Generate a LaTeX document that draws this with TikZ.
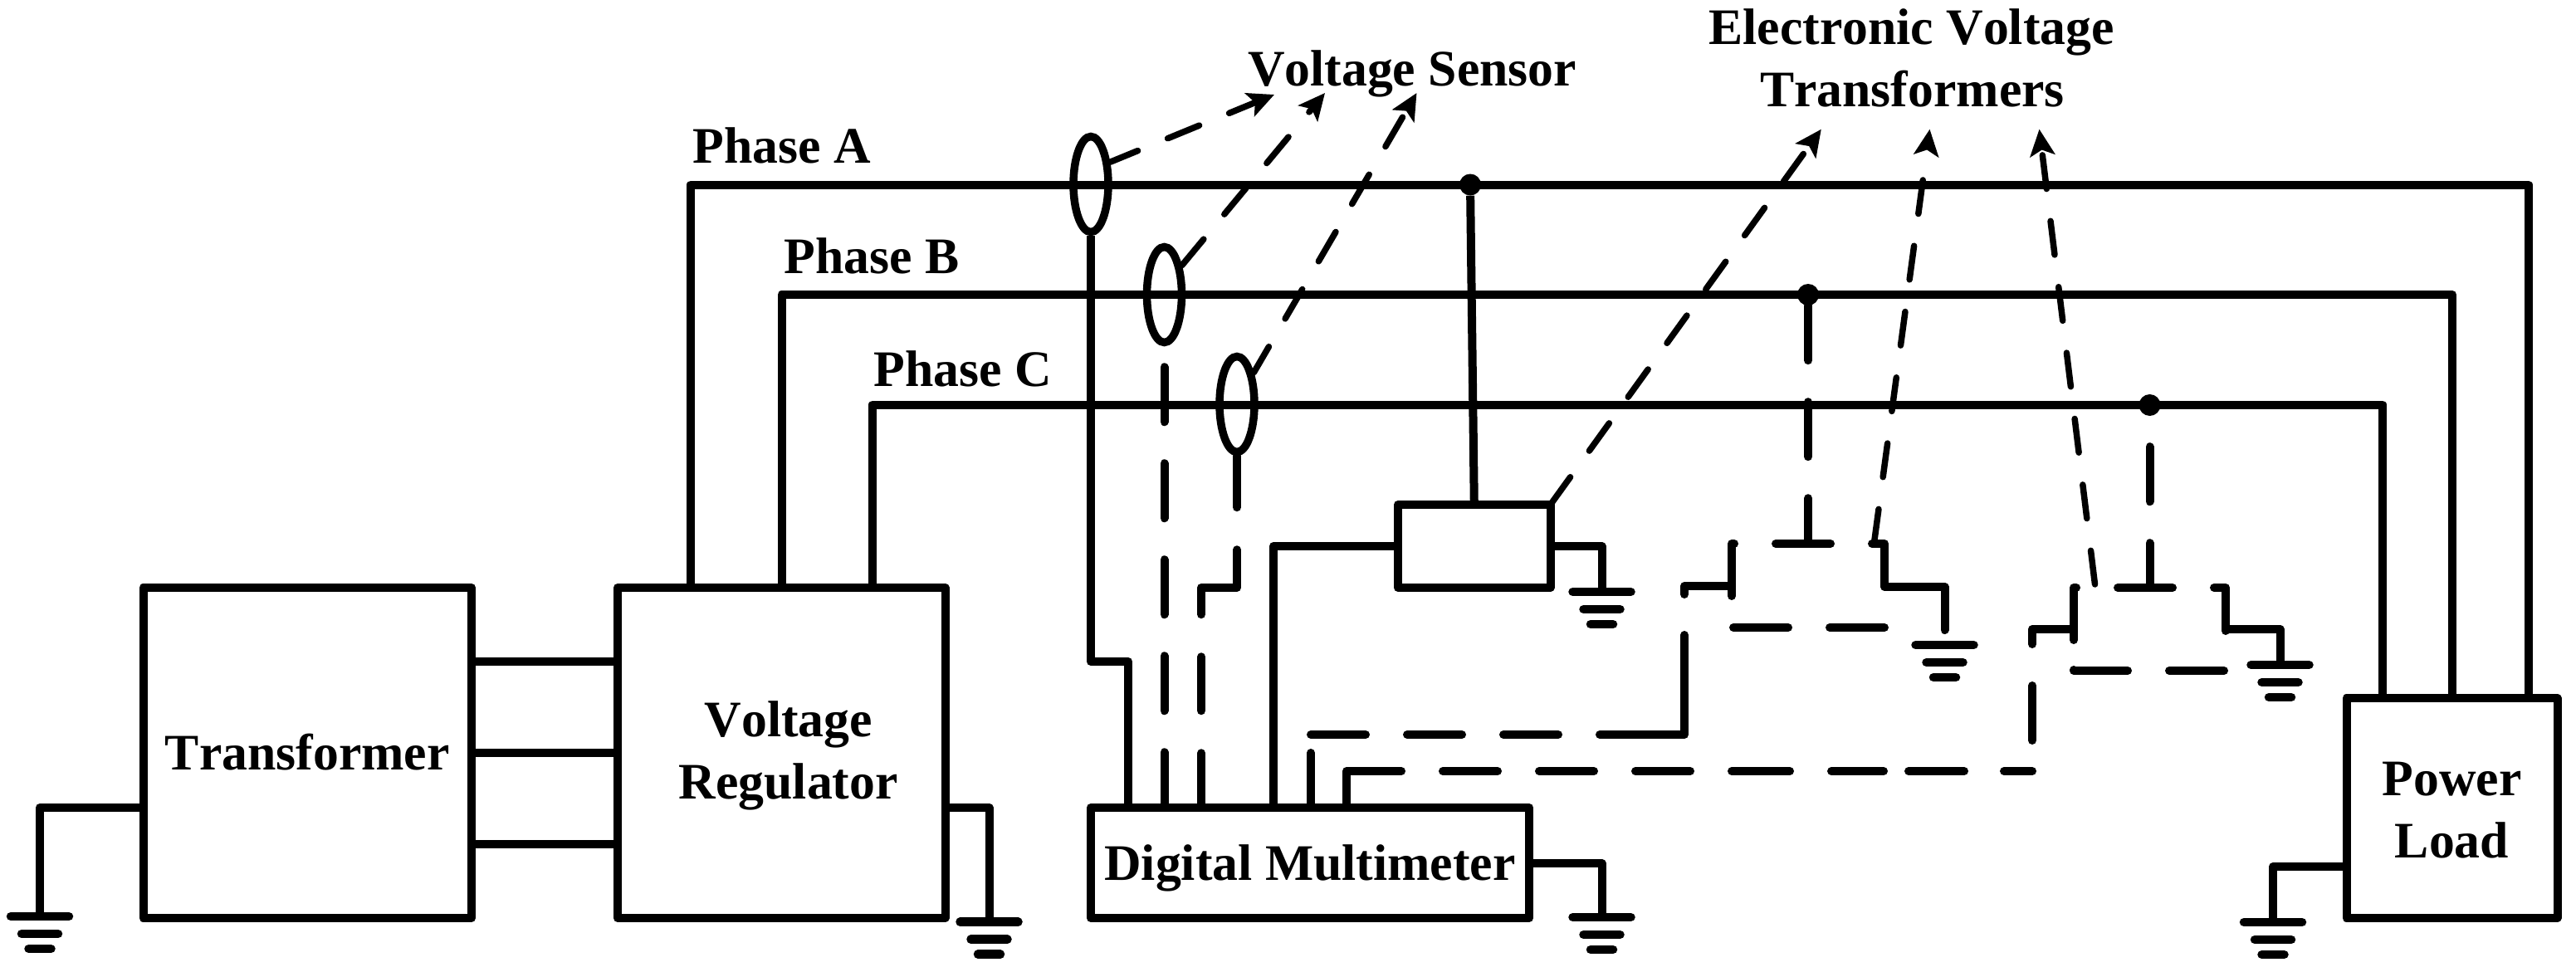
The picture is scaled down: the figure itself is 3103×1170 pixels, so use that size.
\documentclass[tikz,border=0pt]{standalone}
\usepackage{fontspec}
\setmainfont[Kerning=Off]{Liberation Serif}
\usetikzlibrary{arrows.meta,shapes.geometric}
\tikzset{
  wire/.style={line width=10pt,line join=round},
  dashwire/.style={wire,line cap=round,dash pattern=on 66pt off 50pt},
  pointer/.style={line width=7.5pt,line cap=round,dash pattern=on 41pt off 39pt,-{Stealth[length=32pt,width=30pt,inset=7pt]}},
  box/.style={draw,line width=10pt,line join=round,inner sep=0pt,outer sep=0pt,align=center,font=\fontsize{61.7}{75}\selectfont\bfseries},
  sensor/.style={draw,ellipse,line width=9.5pt,inner sep=0pt,minimum width=42pt,minimum height=115pt},
  junction/.style={circle,fill=black,inner sep=0pt,minimum size=26pt},
  lbl/.style={inner sep=0pt,anchor=base,align=center,font=\fontsize{61.7}{75}\selectfont\bfseries},
  evtarea/.style={inner sep=0pt,outer sep=0pt},
  gbar/.style={line width=10.5pt,line cap=round},
  gnd/.pic={\draw[gbar] (-35,0)--(35,0) (-22,21)--(22,21) (-13.5,39)--(13.5,39);}
}
\begin{document}
\begin{tikzpicture}[x=1pt,y=-1pt]
\useasboundingbox (0,0) rectangle (3103,1170);
% main boxes
\node[box,minimum width=395.5pt,minimum height=398pt,text height=41pt,text depth=0pt] (tr) at (370.25,907) {Transformer};
\node[box,minimum width=394.5pt,minimum height=398pt] (vr) at (941.25,907) {\rule{0pt}{49pt}\hspace*{17pt}Voltage\\\hspace*{17pt}Regulator};
\node[box,minimum width=528pt,minimum height=133pt,text height=41pt,text depth=0pt] (dmm) at (1578,1039.5) {Digital Multimeter};
\node[box,minimum width=183.6pt,minimum height=100pt] (evtA) at (1775.8,658) {};
\node[box,minimum width=254pt,minimum height=265pt] (pl) at (2953.5,973.5) {\rule{0pt}{46pt}Power\\Load};
\node[evtarea,minimum width=184pt,minimum height=101pt] (evtB) at (2178,705.5) {};
\node[evtarea,minimum width=183pt,minimum height=100pt] (evtC) at (2589.5,758) {};
% labels
\node[lbl] (lA) at (941.5,196.7) {Phase A};
\node[lbl] (lB) at (1050,329) {Phase B};
\node[lbl] (lC) at (1160,465.7) {Phase C};
\node[lbl] (lVS) at (1701,103.5) {Voltage Sensor};
\node[lbl] (lET1) at (2302.5,53) {Electronic Voltage};
\node[lbl] (lET2) at (2303.5,128) {Transformers};
% transformer to regulator
\foreach \nn/\yy in {1/796.7,2/907,3/1017}{
  \coordinate (t\nn) at (tr.east |- 0,\yy);
  \draw[wire] (t\nn) -- (t\nn -| vr.west);
}
% phase buses
\coordinate (pA) at (832,222.5);
\coordinate (pB) at (941.5,355);
\coordinate (pC) at (1051,487.5);
\coordinate (eA) at (3045.5,222.5);
\coordinate (eB) at (2954,355);
\coordinate (eC) at (2870,487.5);
\draw[wire] (vr.north -| pA) -- (pA) -- (eA) -- (pl.north -| eA);
\draw[wire] (vr.north -| pB) -- (pB) -- (eB) -- (pl.north -| eB);
\draw[wire] (vr.north -| pC) -- (pC) -- (eC) -- (pl.north -| eC);
% junctions
\node[junction] (jA) at (1771,222.5) {};
\node[junction] (jB) at (2178,355) {};
\node[junction] (jC) at (2589.5,488) {};
% sensors
\node[sensor] (sA) at (1314,222) {};
\node[sensor] (sB) at (1402.5,355) {};
\node[sensor] (sC) at (1490,487) {};
% sensor leads
\coordinate (wA) at (1314,797);
\coordinate (wA2) at (1359,797);
\draw[wire] (sA.south) -- (wA) -- (wA2) -- (dmm.north -| wA2);
\draw[dashwire,dash phase=91pt] (sB.south) -- (dmm.north -| sB);
\coordinate (wC1) at (1490,708);
\coordinate (wC2) at (1447,708);
\draw[wire,line cap=round,dash pattern=on 62pt off 51pt on 121pt off 51pt on 65pt off 51pt on 70pt off 50pt] (sC.south) -- (wC1) -- (wC2) -- (dmm.north -| wC2);
% electronic transformer A
\draw[wire] (jA) -- (evtA.north);
\coordinate (a1) at (1534,658);
\draw[wire] (evtA.west) -- (a1) -- (dmm.north -| a1);
% electronic transformer B
\draw[dashwire] (jB) -- (evtB.north);
\coordinate (e2s) at (2086,718);
\draw[dashwire] (e2s) -- (evtB.north west) -- (evtB.north east) -- (evtB.south east) -- (evtB.south west) -- (e2s);
\coordinate (b1) at (1579,885);
\coordinate (b2) at (2029,885);
\coordinate (b3) at (2029,706);
\draw[wire,line cap=round,dash pattern=on 66pt off 22pt on 66pt off 50pt on 66pt off 50pt on 66pt off 50pt on 222pt off 49pt on 67pt off 100pt] (dmm.north -| b1) -- (b1) -- (b2) -- (b3) -- (b3 -| evtB.west);
% electronic transformer C
\draw[dashwire,dash phase=79pt] (jC) -- (evtC.north);
\coordinate (e3s) at (2498,771);
\draw[dashwire] (e3s) -- (evtC.north west) -- (evtC.north east) -- (evtC.south east) -- (evtC.south west) -- (e3s);
\coordinate (c1) at (1622,929);
\coordinate (c2) at (2269,929);
\coordinate (c3) at (2299,929);
\coordinate (c4) at (2448,929);
\coordinate (c5) at (2448,758);
\draw[wire,line cap=round,dash pattern=on 110pt off 50pt on 66pt off 50pt on 66pt off 50pt on 66pt off 50pt on 70pt off 50pt] (dmm.north -| c1) -- (c1) -- (c2);
\draw[wire,line cap=round,dash pattern=on 67pt off 48pt on 34pt off 37pt on 66pt off 50pt on 68pt off 50pt] (c3) -- (c4) -- (c5) -- (evtC.west);
% grounds
\coordinate (g1) at (48,1104);
\draw[wire] (tr.west |- 0,973) -- (g1 |- 0,973) -- (g1);
\pic at (g1) {gnd};
\coordinate (g2) at (1191.5,1110.7);
\draw[wire] (vr.east |- 0,973) -- (g2 |- 0,973) -- (g2);
\pic at (g2) {gnd};
\coordinate (g3) at (1929.5,713);
\draw[wire] (evtA.east) -- (g3 |- evtA.east) -- (g3);
\pic at (g3) {gnd};
\coordinate (g4) at (1929.5,1105);
\draw[wire] (dmm.east |- 0,1040) -- (g4 |- 0,1040) -- (g4);
\pic at (g4) {gnd};
\coordinate (g5) at (2342.5,777);
\coordinate (g5e) at (2342.5,759);
\draw[wire,line cap=round] (evtB.east |- 0,707) -- (g5e |- 0,707) -- (g5e);
\pic at (g5) {gnd};
\coordinate (g6) at (2746.5,801);
\draw[wire] (evtC.east) -- (g6 |- evtC.east) -- (g6);
\pic at (g6) {gnd};
\coordinate (g7) at (2738,1111);
\draw[wire] (pl.west |- 0,1044) -- (g7 |- 0,1044) -- (g7);
\pic at (g7) {gnd};
% pointers
\coordinate (tA) at (1535,114);
\coordinate (tB) at (1596,112);
\coordinate (tC) at (1706.5,112);
\coordinate (tD) at (2193.8,155.7);
\coordinate (tE) at (2324.5,155.7);
\coordinate (tF) at (2456.5,155.7);
\coordinate (sE) at (2257.5,654);
\coordinate (sF) at (2523.5,704);
\draw[pointer,dash phase=5pt] (sA.49) -- (tA);
\draw[pointer] (sB.59) -- (tB);
\draw[pointer,dash phase=5pt] (sC.62) -- (tC);
\draw[pointer] (evtA.north east) -- (tD);
\draw[pointer] (sE) -- (tE);
\draw[pointer] (sF) -- (tF);
\end{tikzpicture}
\end{document}
